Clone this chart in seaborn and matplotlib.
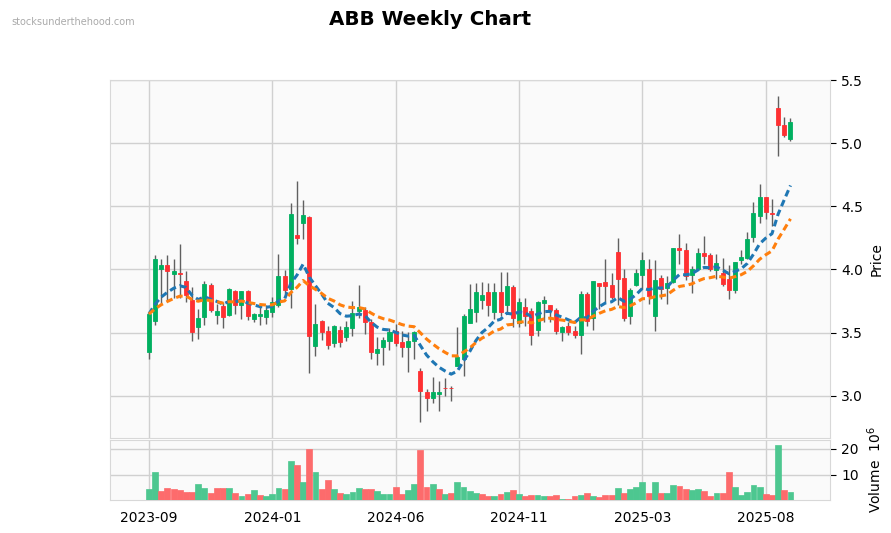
import numpy as np
import pandas as pd
import seaborn as sns
import matplotlib
matplotlib.use("Agg")
import matplotlib.pyplot as plt

# weekly OHLC (USD) and volume (millions)
opens = [3.345, 3.594, 4.004, 4.033, 3.968, 3.968, 3.907, 3.757, 3.547, 3.626,
         3.876, 3.639, 3.710, 3.642, 3.826, 3.720, 3.826, 3.607, 3.632, 3.626,
         3.665, 3.718, 3.947, 3.844, 4.270, 4.370, 4.417, 3.397, 3.592, 3.510,
         3.421, 3.518, 3.468, 3.539, 3.673, 3.681, 3.586, 3.342, 3.386, 3.436,
         3.515, 3.423, 3.389, 3.431, 3.200, 3.034, 2.984, 3.018, 3.064, 3.064,
         3.239, 3.292, 3.576, 3.665, 3.757, 3.823, 3.665, 3.823, 3.720, 3.862,
         3.576, 3.707, 3.668, 3.523, 3.736, 3.718, 3.678, 3.507, 3.549, 3.512,
         3.481, 3.804, 3.615, 3.896, 3.904, 3.875, 4.138, 3.930, 3.633, 3.878,
         3.954, 4.001, 3.633, 3.930, 3.852, 3.904, 4.172, 4.151, 3.957, 4.002,
         4.133, 4.112, 3.996, 3.970, 3.928, 3.838, 4.075, 4.094, 4.259, 4.422,
         4.575, 4.448, 5.282, 5.145, 5.035]
highs = [3.673, 4.112, 4.086, 4.112, 4.081, 4.204, 3.989, 3.865, 3.686, 3.905,
         3.891, 3.726, 3.744, 3.852, 3.841, 3.828, 3.836, 3.652, 3.705, 3.720,
         3.784, 4.125, 3.996, 4.527, 4.698, 4.554, 4.420, 3.726, 3.602, 3.555,
         3.560, 3.550, 3.594, 3.752, 3.878, 3.700, 3.607, 3.463, 3.463, 3.534,
         3.568, 3.515, 3.502, 3.515, 3.218, 3.055, 3.147, 3.116, 3.140, 3.076,
         3.542, 3.647, 3.883, 3.891, 3.904, 3.896, 3.896, 3.983, 3.983, 3.878,
         3.778, 3.778, 3.699, 3.752, 3.791, 3.718, 3.699, 3.554, 3.581, 3.550,
         3.830, 3.825, 3.907, 3.896, 4.080, 3.970, 4.251, 4.002, 3.857, 4.002,
         4.138, 4.080, 4.075, 3.954, 3.949, 4.172, 4.283, 4.212, 4.028, 4.172,
         4.264, 4.133, 4.120, 4.093, 4.033, 4.062, 4.154, 4.296, 4.533, 4.677,
         4.575, 4.559, 5.374, 5.205, 5.200]
lows = [3.292, 3.563, 3.726, 3.752, 3.778, 3.778, 3.744, 3.436, 3.450, 3.560,
        3.660, 3.568, 3.534, 3.630, 3.647, 3.607, 3.602, 3.581, 3.563, 3.568,
        3.626, 3.700, 3.805, 3.692, 4.204, 4.243, 3.181, 3.313, 3.442, 3.371,
        3.390, 3.384, 3.436, 3.476, 3.620, 3.486, 3.292, 3.244, 3.245, 3.365,
        3.392, 3.305, 3.192, 3.292, 2.792, 2.879, 2.945, 2.876, 3.000, 2.958,
        3.236, 3.160, 3.576, 3.586, 3.686, 3.633, 3.607, 3.633, 3.647, 3.541,
        3.547, 3.555, 3.402, 3.476, 3.581, 3.581, 3.489, 3.436, 3.481, 3.455,
        3.331, 3.555, 3.523, 3.686, 3.739, 3.770, 3.718, 3.594, 3.568, 3.870,
        3.844, 3.726, 3.510, 3.765, 3.726, 3.896, 4.041, 3.920, 3.812, 4.000,
        4.041, 3.988, 3.923, 3.870, 3.770, 3.812, 4.041, 4.080, 4.217, 4.370,
        4.401, 4.343, 4.901, 5.045, 5.014]
closes = [3.647, 4.081, 4.033, 3.992, 3.990, 3.965, 3.799, 3.508, 3.615, 3.884,
          3.678, 3.670, 3.626, 3.849, 3.718, 3.826, 3.634, 3.650, 3.645, 3.678,
          3.739, 3.947, 3.839, 4.443, 4.249, 4.435, 3.476, 3.568, 3.507, 3.405,
          3.550, 3.428, 3.541, 3.652, 3.707, 3.586, 3.344, 3.368, 3.442, 3.502,
          3.418, 3.389, 3.434, 3.502, 3.042, 2.984, 3.034, 3.030, 3.060, 3.058,
          3.305, 3.634, 3.686, 3.825, 3.796, 3.718, 3.823, 3.665, 3.870, 3.615,
          3.739, 3.633, 3.481, 3.739, 3.757, 3.678, 3.515, 3.541, 3.507, 3.484,
          3.804, 3.594, 3.907, 3.870, 3.868, 3.786, 3.928, 3.617, 3.838, 3.970,
          4.072, 3.791, 3.915, 3.849, 3.891, 4.172, 4.154, 3.949, 4.002, 4.133,
          4.107, 4.002, 4.054, 3.883, 3.838, 4.062, 4.101, 4.238, 4.449, 4.575,
          4.454, 4.438, 5.140, 5.066, 5.169]
volumes = [4.35, 11.27, 3.58, 4.73, 4.35, 3.96, 3.19, 3.19, 6.27, 4.73,
           2.81, 4.73, 4.73, 4.73, 2.81, 1.65, 2.42, 3.96, 2.04, 1.65,
           2.42, 4.73, 4.35, 15.5, 13.6, 7.04, 19.99, 11.27, 4.35, 8.19,
           4.35, 2.81, 2.42, 3.19, 4.73, 4.35, 4.35, 3.58, 2.42, 2.42,
           5.12, 2.42, 3.96, 6.27, 19.73, 5.12, 6.65, 4.35, 2.42, 2.81,
           7.42, 5.12, 3.58, 2.81, 2.42, 1.65, 1.65, 2.42, 3.19, 3.96,
           2.42, 1.65, 2.04, 2.04, 1.65, 1.65, 2.04, 0.88, 0.88, 1.65,
           2.04, 2.81, 1.65, 1.27, 2.04, 2.04, 4.73, 2.81, 4.35, 5.12,
           7.04, 2.81, 7.42, 2.81, 2.81, 5.89, 5.50, 4.35, 3.96, 4.35,
           3.58, 1.65, 2.81, 2.81, 11.27, 5.12, 2.04, 3.19, 5.89, 5.12,
           2.42, 2.04, 21.3, 3.96, 3.19]
tick_labels = ["2023-09", "2024-01", "2024-06", "2024-11", "2025-03", "2025-08"]

df = pd.DataFrame({"open": opens, "high": highs, "low": lows,
                   "close": closes, "volume": volumes})
df["idx"] = np.arange(len(df))
df["ema10"] = df["close"].ewm(span=10, adjust=False).mean()
df["ema20"] = df["close"].ewm(span=20, adjust=False).mean()

UP, DOWN = "#00b060", "#fe3032"
VUP, VDOWN = "#4dc790", "#fd6b6c"

sns.set_style("whitegrid", {"axes.facecolor": "#fafafa", "grid.color": "#d0d0d0",
                            "axes.edgecolor": "#d8d8d8", "text.color": "black",
                            "xtick.color": "black", "ytick.color": "black",
                            "axes.labelcolor": "black"})

fig = plt.figure(figsize=(8.91, 5.33), dpi=100)
ax = fig.add_axes([0.1235, 0.1782, 0.808, 0.6717])
axv = fig.add_axes([0.1235, 0.0619, 0.808, 0.1126], sharex=ax)

# candles
up = df["close"] >= df["open"]
body_col = np.where(up, UP, DOWN)
ax.vlines(df["idx"], df["low"], df["high"], color="#606060", lw=1, zorder=2)
ax.bar(df["idx"], (df["close"] - df["open"]).abs().clip(lower=0.004),
       bottom=df[["open", "close"]].min(axis=1), width=0.65,
       color=body_col, edgecolor=body_col, linewidth=0.6, zorder=3)

sns.lineplot(data=df, x="idx", y="ema10", ax=ax, color="#1f77b4", lw=2.2,
             linestyle=(0, (2.2, 1.3)), zorder=4)
sns.lineplot(data=df, x="idx", y="ema20", ax=ax, color="#ff7f0e", lw=2.2,
             linestyle=(0, (2.2, 1.3)), zorder=4)

# volume coloured against previous close
vup = df["close"].diff().fillna(1) > 0
axv.bar(df["idx"], df["volume"], width=0.95, color=np.where(vup, VUP, VDOWN),
        edgecolor=np.where(vup, VUP, VDOWN), linewidth=0.5, zorder=3)

ticks = np.arange(0, 20 * len(tick_labels), 20)
ax.set_xlim(-6.3, 110.4)
ax.set_ylim(2.666, 5.5)
ax.set_yticks([3.0, 3.5, 4.0, 4.5, 5.0, 5.5])
ax.set_xticks(ticks)
ax.tick_params(axis="x", labelbottom=False, length=0)
ax.yaxis.tick_right()
ax.yaxis.set_label_position("right")
ax.set_ylabel("Price", fontsize=10, labelpad=5)
ax.set_xlabel("")
ax.tick_params(axis="y", length=4, color="black", labelsize=10, pad=4)

axv.set_ylim(0.3, 23.4)
axv.set_yticks([10, 20])
axv.set_xticks(ticks)
axv.set_xticklabels(tick_labels)
axv.yaxis.tick_right()
axv.yaxis.set_label_position("right")
axv.set_ylabel("Volume  $10^{6}$", fontsize=10, labelpad=5)
axv.tick_params(axis="y", length=4, color="black", labelsize=10, pad=4)
axv.tick_params(axis="x", length=4, color="black", labelsize=10, pad=4)

for a in (ax, axv):
    a.grid(True, color="#d0d0d0", lw=1)
    a.set_axisbelow(True)

fig.text(0.483, 0.964, "ABB Weekly Chart", ha="center", va="center",
         fontsize=14.3, fontweight="bold")
fig.text(11 / 891, 1 - 22 / 533, "stocksunderthehood.com", fontsize=7,
         color="#aaaaaa", va="center")

fig.savefig("out.png", dpi=100)
